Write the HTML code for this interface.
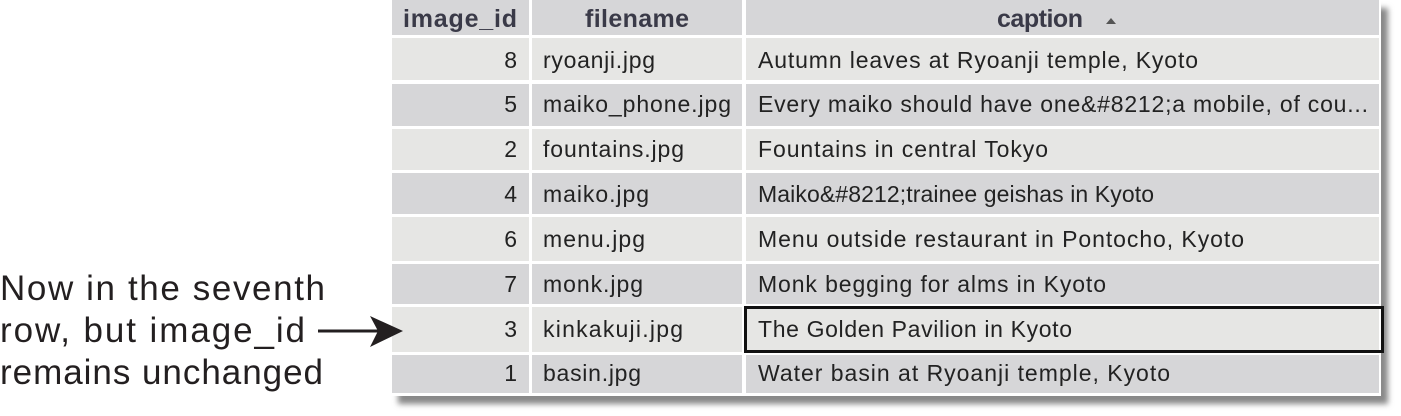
<!DOCTYPE html>
<html><head><style>
html,body{margin:0;padding:0;background:#fff;width:1401px;height:416px;overflow:hidden}
</style></head><body>
<svg width="1401" height="416" xmlns="http://www.w3.org/2000/svg" font-family="Liberation Sans, Arial, sans-serif">
<defs><filter id="b"><feGaussianBlur stdDeviation="3"/></filter></defs>
<rect x="398" y="8" width="990" height="396" fill="#888" filter="url(#b)"/>
<rect x="390" y="0" width="991" height="396" fill="#fff"/>
<g fill="#d6d6d8">
<rect x="392" y="0" width="137" height="35"/>
<rect x="532" y="0" width="210" height="35"/>
<rect x="746" y="0" width="633" height="35"/>
</g>
<g font-weight="bold" font-size="25" fill="#3a3a48" text-anchor="middle">
<text x="460" y="27" textLength="114">image_id</text>
<text x="637" y="27" textLength="104">filename</text>
<text x="1040" y="27" textLength="86">caption</text>
</g>
<polygon points="1106,24 1116,24 1111,18" fill="#555"/>
<g fill="#e6e6e4"><rect x="392" y="38" width="137" height="42"/><rect x="532" y="38" width="210" height="42"/><rect x="746" y="38" width="633" height="42"/></g>
<g fill="#d6d6d8"><rect x="392" y="84" width="137" height="42"/><rect x="532" y="84" width="210" height="42"/><rect x="746" y="84" width="633" height="42"/></g>
<g fill="#e6e6e4"><rect x="392" y="129" width="137" height="41"/><rect x="532" y="129" width="210" height="41"/><rect x="746" y="129" width="633" height="41"/></g>
<g fill="#d6d6d8"><rect x="392" y="173" width="137" height="41"/><rect x="532" y="173" width="210" height="41"/><rect x="746" y="173" width="633" height="41"/></g>
<g fill="#e6e6e4"><rect x="392" y="217" width="137" height="44"/><rect x="532" y="217" width="210" height="44"/><rect x="746" y="217" width="633" height="44"/></g>
<g fill="#d6d6d8"><rect x="392" y="264" width="137" height="40"/><rect x="532" y="264" width="210" height="40"/><rect x="746" y="264" width="633" height="40"/></g>
<g fill="#e6e6e4"><rect x="392" y="307" width="137" height="45"/><rect x="532" y="307" width="210" height="45"/><rect x="746" y="307" width="633" height="45"/></g>
<g fill="#d6d6d8"><rect x="392" y="355" width="137" height="38"/><rect x="532" y="355" width="210" height="38"/><rect x="746" y="355" width="633" height="38"/></g>
<rect x="745.5" y="307.5" width="637" height="44" fill="none" stroke="#111" stroke-width="3"/>
<g font-size="23" fill="#222">
<g text-anchor="end">
<text x="517" y="68">8</text><text x="517" y="112">5</text><text x="517" y="157">2</text><text x="517" y="202">4</text><text x="517" y="247">6</text><text x="517" y="292">7</text><text x="517" y="337">3</text><text x="517" y="381">1</text>
</g>
<text x="543" y="68" textLength="112">ryoanji.jpg</text>
<text x="543" y="112" textLength="188">maiko_phone.jpg</text>
<text x="543" y="157" textLength="141">fountains.jpg</text>
<text x="543" y="202" textLength="106">maiko.jpg</text>
<text x="543" y="247" textLength="102">menu.jpg</text>
<text x="543" y="292" textLength="100">monk.jpg</text>
<text x="543" y="337" textLength="140">kinkakuji.jpg</text>
<text x="543" y="381" textLength="98">basin.jpg</text>
<text x="758" y="68" textLength="440">Autumn leaves at Ryoanji temple, Kyoto</text>
<text x="758" y="112" textLength="610">Every maiko should have one&amp;#8212;a mobile, of cou...</text>
<text x="758" y="157" textLength="290">Fountains in central Tokyo</text>
<text x="758" y="202" textLength="396">Maiko&amp;#8212;trainee geishas in Kyoto</text>
<text x="758" y="247" textLength="486">Menu outside restaurant in Pontocho, Kyoto</text>
<text x="758" y="292" textLength="348">Monk begging for alms in Kyoto</text>
<text x="758" y="337" textLength="314">The Golden Pavilion in Kyoto</text>
<text x="758" y="381" textLength="412">Water basin at Ryoanji temple, Kyoto</text>
</g>
<g font-size="35" fill="#231f20">
<text x="0" y="300" textLength="325">Now in the seventh</text>
<text x="0" y="342" textLength="305">row, but image_id</text>
<text x="0" y="384" textLength="323">remains unchanged</text>
</g>
<line x1="318" y1="331" x2="380" y2="331" stroke="#231f20" stroke-width="3"/>
<polygon points="403,331 370,316 378,331 370,347" fill="#231f20"/>
</svg>
</body></html>
